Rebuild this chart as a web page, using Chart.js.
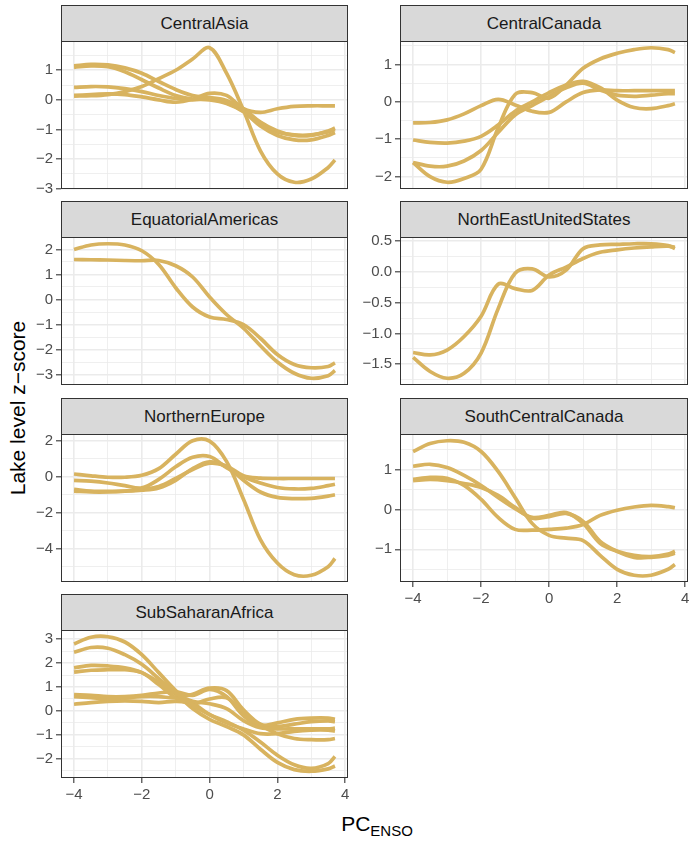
<!DOCTYPE html>
<html>
<head>
<meta charset="utf-8">
<script src="https://cdn.jsdelivr.net/npm/chart.js@4.4.0/dist/chart.umd.min.js"></script>
<style>
    body {
        margin: 0;
        width: 690px;
        height: 844px;
        background: #fff;
        position: relative;
        overflow: hidden;
        font-family: "Liberation Sans", Arial, sans-serif;
    }
    .strip {
        position: absolute;
        box-sizing: border-box;
        height: 37px;
        border: 1px solid #333;
        background: #d9d9d9;
        color: #1a1a1a;
        font-size: 17px;
        line-height: 35px;
        text-align: center;
    }
    canvas { position: absolute; }
    .ytitle {
        position: absolute;
        width: 400px;
        left: -182px;
        top: 396px;
        text-align: center;
        font-size: 21px;
        color: #000;
        transform: rotate(-90deg);
    }
    .xtitle {
        position: absolute;
        width: 200px;
        left: 277px;
        top: 812px;
        text-align: center;
        font-size: 21px;
        color: #000;
    }
    .xtitle sub { font-size: 15px; vertical-align: -5px; }
</style>
</head>
<body>
<div class="ytitle">Lake level z−score</div>
<div class="xtitle">PC<sub>ENSO</sub></div>
<script>
// x positions shared by every curve (PC_ENSO)
const xValues = [-4, -3.5, -3, -2.5, -2, -1.5, -1, -0.5, 0, 0.5, 1, 1.5, 2, 2.5, 3, 3.5, 3.7];
const xGridValues = [-4, -3, -2, -1, 0, 1, 2, 3, 4];

const centralAsia = [
    [0.13, 0.14, 0.18, 0.28, 0.45, 0.72, 1.0, 1.38, 1.76, 0.9, -0.35, -1.72, -2.5, -2.78, -2.67, -2.28, -2.03],
    [1.15, 1.2, 1.18, 1.08, 0.9, 0.62, 0.35, 0.15, 0.08, -0.02, -0.3, -0.75, -1.05, -1.2, -1.2, -1.05, -0.95],
    [1.1, 1.15, 1.12, 0.95, 0.68, 0.4, 0.15, 0.03, 0.0, -0.12, -0.4, -0.88, -1.2, -1.35, -1.35, -1.2, -1.1],
    [0.42, 0.45, 0.44, 0.38, 0.28, 0.15, 0.05, 0.0, 0.05, -0.1, -0.38, -0.82, -1.08, -1.18, -1.18, -1.08, -1.0],
    [0.15, 0.18, 0.2, 0.18, 0.1, 0.0, -0.08, 0.02, 0.22, 0.15, -0.3, -0.42, -0.3, -0.22, -0.2, -0.2, -0.2]
];
const centralCanada = [
    [-0.56, -0.55, -0.48, -0.32, -0.1, 0.07, -0.08, -0.25, -0.28, 0.0, 0.25, 0.32, 0.3, 0.3, 0.3, 0.3, 0.3],
    [-1.02, -1.08, -1.1, -1.05, -0.92, -0.62, -0.25, 0.0, 0.25, 0.45, 0.55, 0.38, 0.05, -0.15, -0.18, -0.1, -0.05],
    [-1.62, -1.72, -1.72, -1.58, -1.3, -0.82, -0.35, -0.1, 0.15, 0.38, 0.5, 0.32, 0.18, 0.15, 0.18, 0.22, 0.22],
    [-1.62, -2.0, -2.15, -2.05, -1.8, -0.7, 0.2, 0.25, 0.1, 0.45, 0.9, 1.15, 1.3, 1.4, 1.45, 1.4, 1.32]
];
const equatorialAmericas = [
    [2.0, 2.18, 2.23, 2.18, 1.95, 1.4, 0.47, -0.3, -0.7, -0.8, -1.0, -1.55, -2.2, -2.6, -2.73, -2.68, -2.53],
    [1.6, 1.59, 1.58, 1.56, 1.55, 1.56, 1.35, 0.9, 0.1, -0.6, -1.15, -1.85, -2.5, -2.95, -3.15, -3.05, -2.84]
];
const northEastUnitedStates = [
    [-1.31, -1.35, -1.27, -1.05, -0.72, -0.2, -0.27, -0.3, -0.05, 0.08, 0.22, 0.32, 0.36, 0.39, 0.41, 0.42, 0.4],
    [-1.39, -1.62, -1.73, -1.65, -1.32, -0.6, -0.02, 0.05, -0.08, 0.03, 0.38, 0.44, 0.45, 0.46, 0.46, 0.43, 0.38]
];
const northernEurope = [
    [0.15, 0.05, -0.03, -0.03, 0.08, 0.45, 1.25, 2.0, 1.98, 0.85, -1.25, -3.5, -4.8, -5.45, -5.48, -5.0, -4.55],
    [-0.2, -0.25, -0.35, -0.5, -0.62, -0.15, 0.55, 1.08, 1.12, 0.5, 0.0, -0.35, -0.6, -0.68, -0.65, -0.5, -0.42],
    [-0.7, -0.8, -0.82, -0.8, -0.75, -0.62, -0.2, 0.45, 0.82, 0.55, -0.2, -0.85, -1.15, -1.22, -1.2, -1.08, -1.0],
    [-0.8, -0.85, -0.85, -0.8, -0.7, -0.55, -0.1, 0.4, 0.75, 0.6, 0.05, -0.08, -0.1, -0.1, -0.1, -0.1, -0.1]
];
const southCentralCanada = [
    [1.45, 1.65, 1.72, 1.68, 1.45, 0.95, 0.3, -0.35, -0.65, -0.72, -0.78, -1.15, -1.5, -1.65, -1.65, -1.5, -1.38],
    [1.08, 1.13, 1.05, 0.85, 0.6, 0.3, 0.02, -0.2, -0.15, -0.08, -0.35, -0.85, -1.05, -1.15, -1.18, -1.12, -1.05],
    [0.75, 0.8, 0.78, 0.6, 0.25, -0.2, -0.5, -0.52, -0.5, -0.47, -0.38, -0.15, -0.02, 0.06, 0.1, 0.07, 0.04],
    [0.72, 0.75, 0.72, 0.65, 0.55, 0.35, 0.05, -0.22, -0.18, -0.1, -0.3, -0.8, -1.05, -1.2, -1.2, -1.15, -1.1]
];
const subSaharanAfrica = [
    [2.8, 3.08, 3.1, 2.88, 2.35, 1.6, 0.85, 0.25, -0.15, -0.45, -0.8, -1.3, -1.85, -2.25, -2.4, -2.2, -1.9],
    [2.45, 2.65, 2.62, 2.35, 1.95, 1.35, 0.75, 0.1, -0.35, -0.65, -1.0, -1.6, -2.15, -2.45, -2.52, -2.42, -2.3],
    [1.8, 1.9, 1.88, 1.8, 1.6, 1.2, 0.7, 0.4, 0.3, 0.1, -0.4, -0.7, -0.75, -0.75, -0.75, -0.75, -0.72],
    [1.62, 1.7, 1.72, 1.72, 1.6, 1.1, 0.55, 0.3, 0.5, 0.55, -0.05, -0.6, -0.95, -1.15, -1.2, -1.2, -1.15],
    [0.68, 0.65, 0.6, 0.6, 0.65, 0.75, 0.8, 0.65, 0.9, 0.6, -0.2, -0.6, -0.5, -0.35, -0.3, -0.3, -0.35],
    [0.6, 0.55, 0.5, 0.55, 0.6, 0.6, 0.55, 0.7, 0.95, 0.85, 0.05, -0.55, -0.65, -0.55, -0.45, -0.42, -0.45],
    [0.28, 0.35, 0.4, 0.42, 0.4, 0.35, 0.4, 0.3, -0.15, -0.5, -0.75, -0.95, -0.95, -0.85, -0.8, -0.8, -0.85]
];

const panelNames = ['CentralAsia', 'CentralCanada', 'EquatorialAmericas', 'NorthEastUnitedStates',
    'NorthernEurope', 'SouthCentralCanada', 'SubSaharanAfrica'];
const panelSeries = [centralAsia, centralCanada, equatorialAmericas, northEastUnitedStates,
    northernEurope, southCentralCanada, subSaharanAfrica];
const yTickSteps = [1, 1, 1, 0.5, 2, 1, 1];

// layout (px)
const colLeft = [61, 400];
const colWidth = [287, 288];
const rowTop = [5, 201, 398, 594];
const STRIP_H = 36;
const PLOT_H = 148;
const AXIS_W = 61;
const PAD_TOP = 12;
const PAD_RIGHT = 12;
const X_AXIS_H = 30;

const LINE_COLOR = '#d8b35f';
const GRID_COLOR = '#ebebeb';
const TICK_FONT = { family: 'Liberation Sans', size: 15 };

const panelBorder = {
    id: 'panelBorder',
    afterDraw(chart) {
        const a = chart.chartArea;
        const ctx = chart.ctx;
        ctx.save();
        ctx.strokeStyle = '#333333';
        ctx.lineWidth = 1;
        ctx.strokeRect(Math.round(a.left) + 0.5, Math.round(a.top) + 0.5,
            Math.round(a.right - a.left) - 1, Math.round(a.bottom - a.top) - 1);
        ctx.restore();
    }
};

function fmt(v, step) {
    const s = step < 1 ? v.toFixed(1) : String(Math.round(v));
    return s.replace('-', '\u2212');
}

function isMultiple(v, step) {
    return Math.abs(v / step - Math.round(v / step)) < 1e-9;
}

function expandRange(values) {
    const lo = Math.min(...values);
    const hi = Math.max(...values);
    const pad = (hi - lo) * 0.05;
    return [lo - pad, hi + pad];
}

function drawPanel(i) {
    const col = i % 2;
    const row = Math.floor(i / 2);
    const left = colLeft[col];
    const width = colWidth[col];
    const top = rowTop[row];
    const isBottom = (i === 5 || i === 6);
    const step = yTickSteps[i];
    const series = panelSeries[i];

    const strip = document.createElement('div');
    strip.className = 'strip';
    strip.style.left = left + 'px';
    strip.style.top = top + 'px';
    strip.style.width = width + 'px';
    strip.textContent = panelNames[i];
    document.body.appendChild(strip);

    const padBottom = isBottom ? 2 : 6;
    const xAxisH = isBottom ? X_AXIS_H : 0;
    const canvas = document.createElement('canvas');
    canvas.width = AXIS_W + width + PAD_RIGHT;
    canvas.height = PAD_TOP + PLOT_H + xAxisH + padBottom;
    canvas.style.left = (left - AXIS_W) + 'px';
    canvas.style.top = (top + STRIP_H - PAD_TOP) + 'px';
    document.body.appendChild(canvas);

    const [xMin, xMax] = expandRange(xValues);
    const [yMin, yMax] = expandRange(series.flat());

    new Chart(canvas, {
        type: 'line',
        data: {
            datasets: series.map(vals => ({
                data: xValues.map((x, k) => ({ x: x, y: vals[k] })),
                borderColor: LINE_COLOR,
                borderWidth: 3.7,
                pointRadius: 0,
                fill: false,
                tension: 0.35,
                borderCapStyle: 'butt',
                borderJoinStyle: 'round'
            }))
        },
        options: {
            responsive: false,
            animation: false,
            events: [],
            layout: { padding: { top: PAD_TOP, right: PAD_RIGHT, bottom: padBottom, left: 0 } },
            plugins: {
                legend: { display: false },
                tooltip: { enabled: false }
            },
            scales: {
                x: {
                    type: 'linear',
                    min: xMin,
                    max: xMax,
                    border: { display: false },
                    afterBuildTicks: s => { s.ticks = xGridValues.map(v => ({ value: v })); },
                    afterFit: s => {
                        s.height = xAxisH;
                        s.paddingLeft = 0;
                        s.paddingRight = 0;
                    },
                    grid: {
                        color: GRID_COLOR,
                        lineWidth: ctx => (ctx.tick && isMultiple(ctx.tick.value, 2)) ? 1.6 : 0.8,
                        drawTicks: isBottom,
                        tickLength: 5,
                        tickWidth: 1.1,
                        tickColor: ctx => (ctx.tick && isMultiple(ctx.tick.value, 2)) ? '#333333' : 'rgba(0,0,0,0)'
                    },
                    ticks: {
                        display: isBottom,
                        autoSkip: false,
                        maxRotation: 0,
                        padding: 3,
                        color: '#4d4d4d',
                        font: TICK_FONT,
                        callback: v => isMultiple(v, 2) ? fmt(v, 2) : ''
                    }
                },
                y: {
                    type: 'linear',
                    min: yMin,
                    max: yMax,
                    border: { display: false },
                    afterBuildTicks: s => {
                        const minor = step / 2;
                        const ticks = [];
                        for (let k = Math.ceil(s.min / minor - 1e-9); k * minor <= s.max + 1e-9; k++) {
                            ticks.push({ value: k * minor });
                        }
                        s.ticks = ticks;
                    },
                    afterFit: s => {
                        s.width = AXIS_W;
                        s.paddingTop = 0;
                        s.paddingBottom = 0;
                    },
                    grid: {
                        color: GRID_COLOR,
                        lineWidth: ctx => (ctx.tick && isMultiple(ctx.tick.value, step)) ? 1.6 : 0.8,
                        tickLength: 5,
                        tickWidth: 1.1,
                        tickColor: ctx => (ctx.tick && isMultiple(ctx.tick.value, step)) ? '#333333' : 'rgba(0,0,0,0)'
                    },
                    ticks: {
                        autoSkip: false,
                        padding: 3,
                        color: '#4d4d4d',
                        font: TICK_FONT,
                        callback: v => isMultiple(v, step) ? fmt(v, step) : ''
                    }
                }
            }
        },
        plugins: [panelBorder]
    });
}

for (let i = 0; i < panelNames.length; i++) {
    drawPanel(i);
}
</script>
</body>
</html>
